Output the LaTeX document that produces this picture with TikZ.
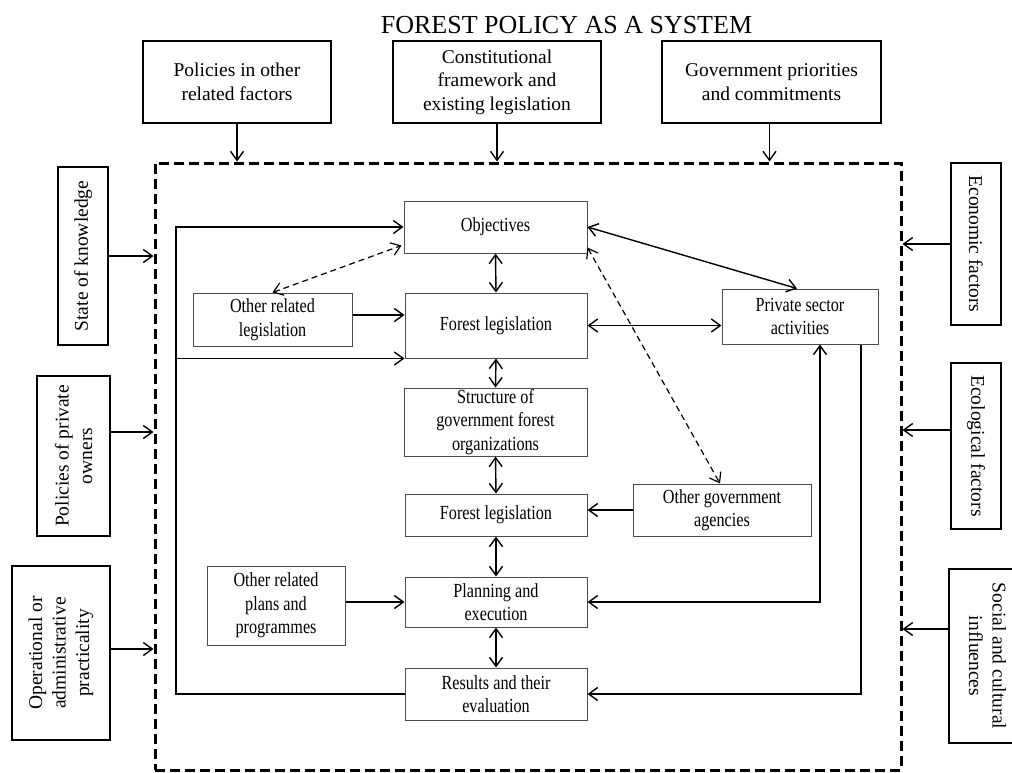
\documentclass[tikz,border=0pt]{standalone}
\usepackage{fontspec}
\setmainfont{Liberation Serif}
\newfontfamily\narrowserif[FakeStretch=0.81]{Liberation Serif}
\usetikzlibrary{arrows.meta}
\newcommand\outfont{\fontsize{19.5}{23.5}\selectfont}
\newcommand\infont{\narrowserif\fontsize{20}{23.5}\selectfont}
\begin{document}
\begin{tikzpicture}[x=1pt,y=-1pt,
  outbox/.style={draw=black,line width=1.1pt,font=\outfont,align=center,inner sep=0pt},
  inbox/.style={draw=black!70,line width=1pt,font=\infont,align=center,inner sep=0pt},
  arr/.style={line width=1.4pt,-{Straight Barb[length=9pt,width=13pt]}},
  darr/.style={line width=1.4pt,{Straight Barb[length=9pt,width=13pt]}-{Straight Barb[length=9pt,width=13pt]}},
  dsh/.style={line width=1.2pt,dash pattern=on 6pt off 4pt,{Straight Barb[length=9pt,width=13pt]}-{Straight Barb[length=9pt,width=13pt]}},
  frm/.style={draw=black,line width=3pt,dash pattern=on 10pt off 5pt,inner sep=0pt}
]
\useasboundingbox (0,0) rectangle (1012,772);

% title
\node[anchor=base,font=\fontsize{26}{30}\selectfont,inner sep=0pt] (title) at (566.5,33) {FOREST POLICY AS A SYSTEM};

% dashed frame
\node[frm,minimum width=746pt,minimum height=607pt] (frame) at (528,466.5) {};

% outer boxes
\node[outbox,minimum width=188pt,minimum height=82pt] (b1) at (237,82) {Policies in other\\related factors};
\node[outbox,minimum width=208pt,minimum height=82pt] (b2) at (497,82) {Constitutional\\framework and\\existing legislation};
\node[outbox,minimum width=219pt,minimum height=82pt] (b3) at (771.5,82) {Government priorities\\and commitments};

\node[outbox,rotate=90,minimum width=178pt,minimum height=50pt] (sk) at (83,256) {State of knowledge};
\node[outbox,rotate=90,minimum width=160pt,minimum height=73pt] (po) at (73.5,456) {Policies of private\\owners};
\node[outbox,rotate=90,minimum width=174pt,minimum height=98pt] (oa) at (61,653) {Operational or\\administrative\\practicality};

\node[outbox,rotate=-90,minimum width=162pt,minimum height=50pt] (ef) at (976,244) {Economic factors};
\node[outbox,rotate=-90,minimum width=166pt,minimum height=50pt] (ec) at (976,446) {Ecological factors};
\node[outbox,rotate=-90,minimum width=174pt,minimum height=77pt] (sc) at (987.5,656) {Social and cultural\\influences};

% outer arrows
\draw[arr] (b1.south) -- (b1.south |- frame.north);
\draw[arr] (b2.south) -- (b2.south |- frame.north);
\draw[arr] ([xshift=-2pt]b3.south) -- ([xshift=-2pt]b3.south |- frame.north);
\draw[arr] (sk.south) -- (sk.south -| frame.west);
\draw[arr] ([yshift=24pt]po.south) -- ([yshift=24pt]po.south -| frame.west);
\draw[arr] ([yshift=4pt]oa.south) -- ([yshift=4pt]oa.south -| frame.west);
\draw[arr] (ef.south) -- (ef.south -| frame.east);
\draw[arr] ([yshift=16pt]ec.south) -- ([yshift=16pt]ec.south -| frame.east);
\draw[arr] ([yshift=27pt]sc.south) -- ([yshift=27pt]sc.south -| frame.east);

% inner boxes
\node[inbox,minimum width=183pt,minimum height=52pt] (obj) at (495.5,227) {Objectives};
\node[inbox,minimum width=182pt,minimum height=65pt] (fl1) at (496,325.5) {Forest legislation};
\node[inbox,minimum width=183pt,minimum height=68pt] (sgo) at (495.5,422) {Structure of\\government forest\\organizations};
\node[inbox,minimum width=182pt,minimum height=42pt] (fl2) at (496,515) {Forest legislation};
\node[inbox,minimum width=182pt,minimum height=50pt] (pe) at (496,602) {Planning and\\execution};
\node[inbox,minimum width=182pt,minimum height=52pt] (re) at (496,694) {Results and their\\evaluation};
\node[inbox,minimum width=159pt,minimum height=53pt] (orl) at (272.5,319.5) {Other related\\legislation};
\node[inbox,minimum width=138pt,minimum height=79pt] (orp) at (276,605.5) {Other related\\plans and\\programmes};
\node[inbox,minimum width=156pt,minimum height=55pt] (psa) at (800,316.5) {Private sector\\activities};
\node[inbox,minimum width=178pt,minimum height=52pt] (oga) at (722,510) {Other government\\agencies};

% vertical double arrows
\draw[darr] (obj.south) -- (fl1.north);
\draw[darr] (fl1.south) -- (sgo.north);
\draw[darr] (sgo.south) -- (fl2.north);
\draw[darr] (fl2.south) -- (pe.north);
\draw[darr] (pe.south) -- (re.north);

% feedback loop on the left
\coordinate (lp) at (176,0);
\draw[arr] (re.west) -- (re.west -| lp) |- (obj.west);
\draw[arr] (lp |- fl1.south west) -- (fl1.south west);
\draw[arr] ([yshift=4.5pt]orl.east) -- ([yshift=4.5pt]orl.east -| fl1.west);
\draw[dsh] (orl.north) -- ([xshift=-2pt,yshift=8pt]obj.south west);
\draw[arr] (pe.west -| orp.east) -- (pe.west);

% right side links
\draw[darr] (obj.east) -- ([xshift=-3pt]psa.north);
\draw[darr] (fl1.east) -- (fl1.east -| psa.west);
\draw[dsh] ([yshift=6pt]obj.south east) -- ([xshift=-2pt]oga.north);
\draw[arr] (oga.west) -- (oga.west -| fl2.east);
\draw[darr] ([xshift=20pt]psa.south) |- (pe.east);
\draw[arr] ([xshift=61pt]psa.south) |- (re.east);
\end{tikzpicture}
\end{document}
